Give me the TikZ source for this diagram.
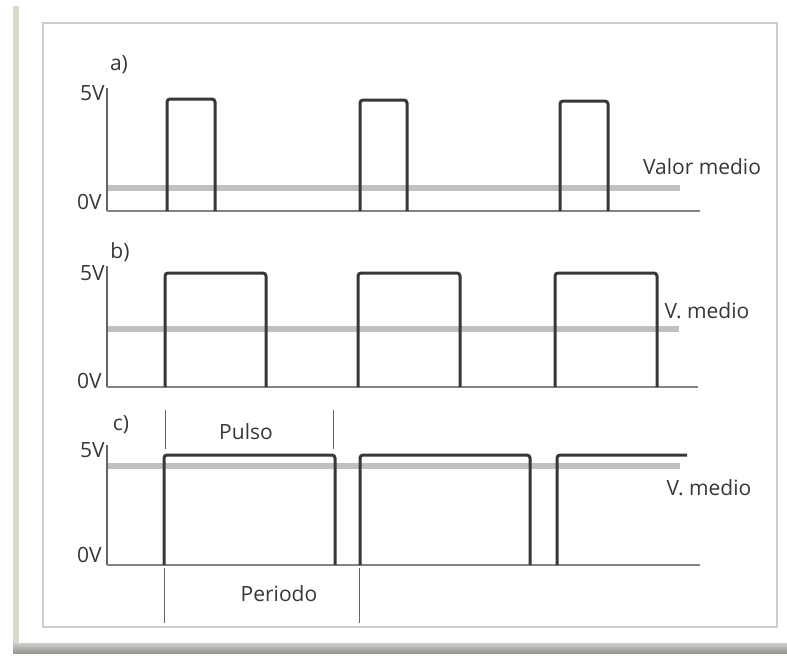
\documentclass[tikz,border=0pt]{standalone}
\usepackage{fontspec}
\setmainfont{Open Sans}
\usetikzlibrary{positioning}
\definecolor{ink}{RGB}{55,55,55}
\definecolor{axisgray}{RGB}{100,100,100}
\definecolor{meangray}{RGB}{192,192,192}
\definecolor{framegray}{RGB}{205,205,205}
\definecolor{olivebar}{RGB}{218,218,204}
\definecolor{shadowgray}{RGB}{150,150,142}

\begin{document}
\begin{tikzpicture}[x=0.5pt,y=-0.5pt,font=\fontsize{10.5}{12}\selectfont,
  wave/.style={ink,line width=1.5pt,rounded corners=1.5pt},
  axisline/.style={axisgray,line width=0.6pt},
  baseline/.style={axisgray!80,line width=1pt},
  meanline/.style={meangray,line width=2.6pt},
  marker/.style={axisgray,line width=0.5pt},
  lbl/.style={text=ink,inner sep=1pt}]
  \useasboundingbox[fill=white] (0,0) rectangle (787,655);
  % frame
  \fill[olivebar] (13,6) rectangle (19,653);
  \shade[top color=framegray,bottom color=shadowgray] (13,643) rectangle (787,653);
  \draw[framegray,line width=0.8pt] (43,23) rectangle (777,627);

  % a) narrow pulses
  \begin{scope}
    \node[lbl] (tagA) at (119,65) {a)};
    \draw[meanline] (107,188) -- (680,188);
    \draw[axisline] (107,88) -- (107,211);
    \draw[baseline] (107,211) -- (700,211);
    \foreach \xa/\xb/\yt in {167/215/99,360/407/100,560/608/101} {
      \draw[wave] (\xa,211) -- (\xa,\yt) -- (\xb,\yt) -- (\xb,211);}
    \node[lbl,anchor=east] (highA) at (107,93) {5V};
    \node[lbl,anchor=east] (lowA) at (104,202) {0V};
    \node[lbl] (meanA) at (702,167) {Valor medio};
  \end{scope}

  % b) half duty
  \begin{scope}
    \node[lbl] (tagB) at (120,252) {b)};
    \draw[meanline] (107,329) -- (679,329);
    \draw[axisline] (107,266) -- (107,387);
    \draw[baseline] (107,387) -- (698,387);
    \foreach \xa/\xb in {165/266,358/460,555/657} {
      \draw[wave] (\xa,387) -- (\xa,273) -- (\xb,273) -- (\xb,387);}
    \node[lbl,anchor=east] (highB) at (107,273) {5V};
    \node[lbl,anchor=east] (lowB) at (104,381) {0V};
    \node[lbl] (meanB) at (707,311) {V. medio};
  \end{scope}

  % c) wide pulses, with pulse and period marks
  \begin{scope}
    \node[lbl] (tagC) at (121,425) {c)};
    \draw[meanline] (107,466) -- (680,466);
    \draw[axisline] (107,445) -- (107,565);
    \draw[baseline] (107,565) -- (700,565);
    \foreach \xa/\xb in {164/335,360/530} {
      \draw[wave] (\xa,565) -- (\xa,455) -- (\xb,455) -- (\xb,565);}
    \draw[wave] (557,565) -- (557,455) -- (687,455);
    \node[lbl,anchor=east] (highC) at (107,450) {5V};
    \node[lbl,anchor=east] (lowC) at (104,555) {0V};
    \node[lbl] (meanC) at (709,488) {V. medio};
    % pulse width
    \draw[marker] (165,410) -- (165,449);
    \draw[marker] (333,410) -- (333,449);
    \node[lbl] (pulseW) at (246,432) {Pulso};
    % period
    \draw[marker] (164,568) -- (164,623);
    \draw[marker] (359,568) -- (359,623);
    \node[lbl] (periodW) at (279,594) {Periodo};
  \end{scope}
\end{tikzpicture}
\end{document}
